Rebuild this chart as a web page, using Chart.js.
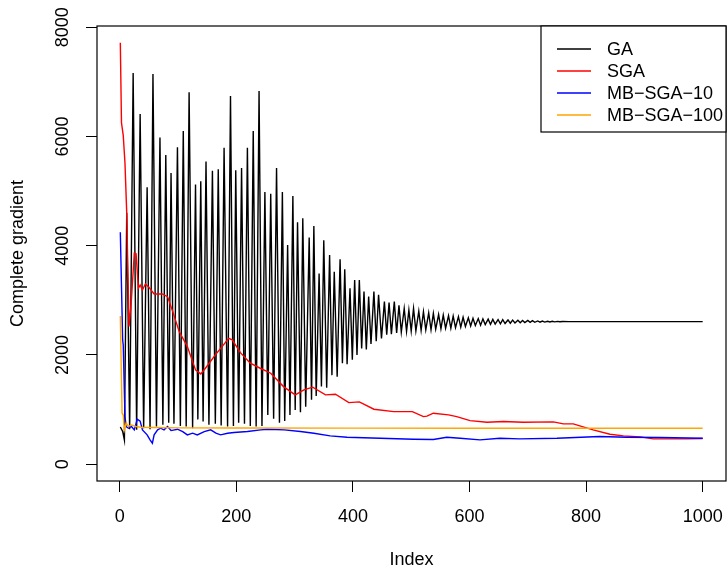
<!DOCTYPE html>
<html>
<head>
<meta charset="utf-8">
<script src="https://cdn.jsdelivr.net/npm/chart.js@4.4.1/dist/chart.umd.min.js"></script>
<style>
  html, body { margin: 0; padding: 0; background: #fff; }
</style>
</head>
<body>
<canvas id="chart" width="727" height="569"></canvas>
<script>
// values, as [index, value]
const seriesNames = ["GA", "SGA", "MB\u2212SGA\u221210", "MB\u2212SGA\u2212100"];
const seriesColors = ["#000000", "#ff0000", "#0000ff", "#ffa500"];
const xTicks = [0, 200, 400, 600, 800, 1000];
const yTicks = [0, 2000, 4000, 6000, 8000];

const gaPoints = [
  [1, 680], [5, 600], [8, 440], [12, 4600], [17, 640], [23, 7160], [29, 630], [35, 6410],
  [41, 660], [47, 5070], [52, 640], [57, 7140], [63, 690], [69, 5980], [74, 720], [79, 5660],
  [84, 760], [88, 5330], [93, 740], [99, 5800], [104, 700], [109, 6100], [114, 690], [119, 6810],
  [125, 660], [130, 5120], [134, 820], [139, 5180], [143, 780], [148, 5540], [153, 720], [159, 5370],
  [164, 740], [169, 5400], [174, 710], [179, 5790], [185, 690], [190, 6740], [195, 700], [199, 5380],
  [204, 760], [209, 5420], [214, 740], [219, 5790], [224, 700], [229, 6100], [234, 690], [239, 6830],
  [244, 700], [249, 4980], [254, 900], [259, 4950], [264, 830], [269, 5420], [274, 760], [279, 4980],
  [283, 790], [288, 4010], [292, 900], [297, 4910], [301, 990], [305, 4430], [310, 950], [314, 4500],
  [319, 1050], [325, 4150], [329, 1180], [333, 4360], [337, 1250], [342, 3490], [346, 1420], [350, 4100],
  [355, 1400], [360, 3830], [364, 1630], [368, 3520], [373, 1600], [378, 3750], [382, 1850], [386, 3570],
  [390, 1830], [395, 3220], [399, 1910], [403, 3370], [407, 2000], [411, 3370], [415, 2120], [419, 3160],
  [423, 2100], [427, 3070], [431, 2200], [436, 3160], [440, 2250], [444, 3100], [449, 2300], [454, 2975],
  [458, 2370], [462, 2960], [466, 2380], [471, 2975], [475, 2400], [479, 2910], [483, 2420], [488, 2850],
  [492, 2430], [496, 2820], [500, 2440], [504, 2850], [508, 2440], [513, 2800], [517, 2450], [521, 2790],
  [525, 2460], [530, 2770], [534, 2460], [538, 2760], [542, 2470], [547, 2740], [551, 2480], [555, 2730],
  [559, 2490], [564, 2720], [568, 2490], [572, 2710], [576, 2500], [581, 2700], [585, 2510], [589, 2690],
  [593, 2520], [598, 2680], [602, 2530], [606, 2670], [610, 2540], [615, 2665], [619, 2545], [623, 2660],
  [627, 2555], [632, 2655], [636, 2560], [640, 2650], [644, 2565], [649, 2648], [653, 2570], [657, 2645],
  [661, 2575], [666, 2640], [670, 2580], [674, 2638], [678, 2585], [683, 2635], [687, 2588], [691, 2632],
  [695, 2592], [700, 2630], [704, 2595], [708, 2626], [712, 2597], [717, 2622], [721, 2600], [725, 2620],
  [729, 2601], [734, 2617], [738, 2603], [742, 2615], [746, 2605], [751, 2613], [755, 2606], [760, 2611],
  [770, 2609], [1000, 2609]
];

const sgaPoints = [
  [1, 7713], [3, 6250], [6, 6020], [9, 5510], [12, 4600], [14, 3500], [16, 2520], [20, 3006],
  [25, 3860], [28, 3850], [32, 3220], [35, 3280], [39, 3189], [44, 3299], [50, 3238], [59, 3116],
  [73, 3116], [82, 3067], [90, 2823], [102, 2427], [116, 2152], [130, 1725], [139, 1652], [147, 1756],
  [164, 2000], [187, 2305], [193, 2275], [207, 2042], [224, 1848], [241, 1756], [259, 1665], [281, 1420],
  [301, 1268], [316, 1359], [331, 1409], [353, 1268], [370, 1280], [393, 1127], [411, 1140], [436, 1006],
  [470, 962], [502, 962], [521, 871], [527, 880], [538, 933], [564, 902], [578, 871], [601, 798],
  [630, 768], [658, 780], [692, 768], [744, 775], [761, 737], [778, 737], [812, 627], [841, 548],
  [864, 518], [893, 500], [915, 463], [972, 463], [1000, 470]
];

const mb10Points = [
  [1, 4245], [5, 2274], [6, 2183], [9, 871], [11, 688], [15, 658], [20, 690], [25, 628],
  [30, 823], [35, 787], [39, 628], [47, 536], [52, 445], [56, 384], [59, 536], [65, 628],
  [70, 658], [76, 628], [82, 688], [88, 615], [99, 640], [108, 597], [116, 536], [125, 567],
  [133, 536], [145, 597], [156, 628], [165, 567], [173, 536], [185, 567], [196, 579], [219, 597],
  [242, 628], [253, 640], [282, 628], [310, 597], [333, 567], [361, 518], [390, 494], [447, 475],
  [504, 457], [538, 451], [561, 494], [584, 475], [618, 445], [652, 475], [686, 463], [750, 475],
  [823, 506], [870, 494], [927, 488], [1000, 475]
];

const mb100Points = [
  [1, 2713], [4, 933], [6, 900], [8, 628], [11, 750], [15, 690], [20, 719], [28, 690],
  [37, 677], [60, 670], [100, 665], [200, 662], [400, 660], [600, 658], [800, 658], [1000, 658]
];

const allSeries = [gaPoints, sgaPoints, mb10Points, mb100Points];

const FONT = "'Liberation Sans', Arial, Helvetica, sans-serif";

// box round the plot region
const boxPlugin = {
  id: "box",
  afterDraw(chart) {
    const { ctx, chartArea: a } = chart;
    ctx.save();
    ctx.strokeStyle = "#000";
    ctx.lineWidth = 1.2;
    ctx.strokeRect(a.left, a.top, a.right - a.left, a.bottom - a.top);
    ctx.restore();
  },
};

// R-style legend in the top right corner
const legendPlugin = {
  id: "rlegend",
  afterDraw(chart) {
    const { ctx, chartArea: a } = chart;
    const left = 541, top = a.top, bottom = 132;
    ctx.save();
    ctx.fillStyle = "#fff";
    ctx.fillRect(left, top, a.right - left, bottom - top);
    ctx.font = "18px " + FONT;
    ctx.textBaseline = "middle";
    chart.data.datasets.forEach((ds, i) => {
      const y = 49 + i * 22;
      ctx.strokeStyle = ds.borderColor;
      ctx.lineWidth = 1.5;
      ctx.beginPath();
      ctx.moveTo(557, y);
      ctx.lineTo(591, y);
      ctx.stroke();
      ctx.fillStyle = "#000";
      ctx.fillText(ds.label, 607, y + 1);
    });
    ctx.strokeStyle = "#000";
    ctx.lineWidth = 1.2;
    ctx.strokeRect(left, top, a.right - left, bottom - top);
    ctx.restore();
  },
};

const datasets = allSeries.map((pts, i) => ({
  label: seriesNames[i],
  data: pts.map((p) => ({ x: p[0], y: p[1] })),
  borderColor: seriesColors[i],
  borderWidth: 1.4,
  pointRadius: 0,
  tension: 0,
  fill: false,
  order: allSeries.length - i,
}));

new Chart(document.getElementById("chart"), {
  type: "line",
  data: { datasets },
  options: {
    responsive: false,
    animation: false,
    devicePixelRatio: 1,
    layout: { padding: { top: 26, right: 1, left: 0, bottom: 0 } },
    plugins: { legend: { display: false }, tooltip: { enabled: false } },
    scales: {
      x: {
        type: "linear",
        min: -39,
        max: 1040,
        afterBuildTicks: (s) => { s.ticks = xTicks.map((v) => ({ value: v })); },
        afterFit: (s) => { s.height = 88; s.paddingLeft = 0; s.paddingRight = 0; },
        border: { display: false },
        grid: { drawOnChartArea: false, drawTicks: true, tickLength: 11, color: "#000", lineWidth: 1 },
        ticks: {
          font: { family: FONT, size: 18 }, color: "#000", padding: 14, maxRotation: 0, autoSkip: false,
          callback: (v) => String(v),
        },
        title: {
          display: true, text: "Index", color: "#000",
          font: { family: FONT, size: 18, lineHeight: 1 }, padding: { top: 0, bottom: 0 },
        },
      },
      y: {
        type: "linear",
        min: -308,
        max: 8021,
        afterBuildTicks: (s) => { s.ticks = yTicks.map((v) => ({ value: v })); },
        afterFit: (s) => { s.width = 97; s.paddingTop = 0; s.paddingBottom = 0; },
        border: { display: false },
        grid: { drawOnChartArea: false, drawTicks: true, tickLength: 11, color: "#000", lineWidth: 1 },
        ticks: {
          font: { family: FONT, size: 18 }, color: "#000", padding: 2.5,
          minRotation: 90, maxRotation: 90, crossAlign: "center", autoSkip: false,
          callback: (v) => String(v),
        },
        title: {
          display: true, text: "Complete gradient", color: "#000",
          font: { family: FONT, size: 18, lineHeight: 1 }, padding: { top: 9.4, bottom: 0 },
        },
      },
    },
  },
  plugins: [boxPlugin, legendPlugin],
});
</script>
</body>
</html>
